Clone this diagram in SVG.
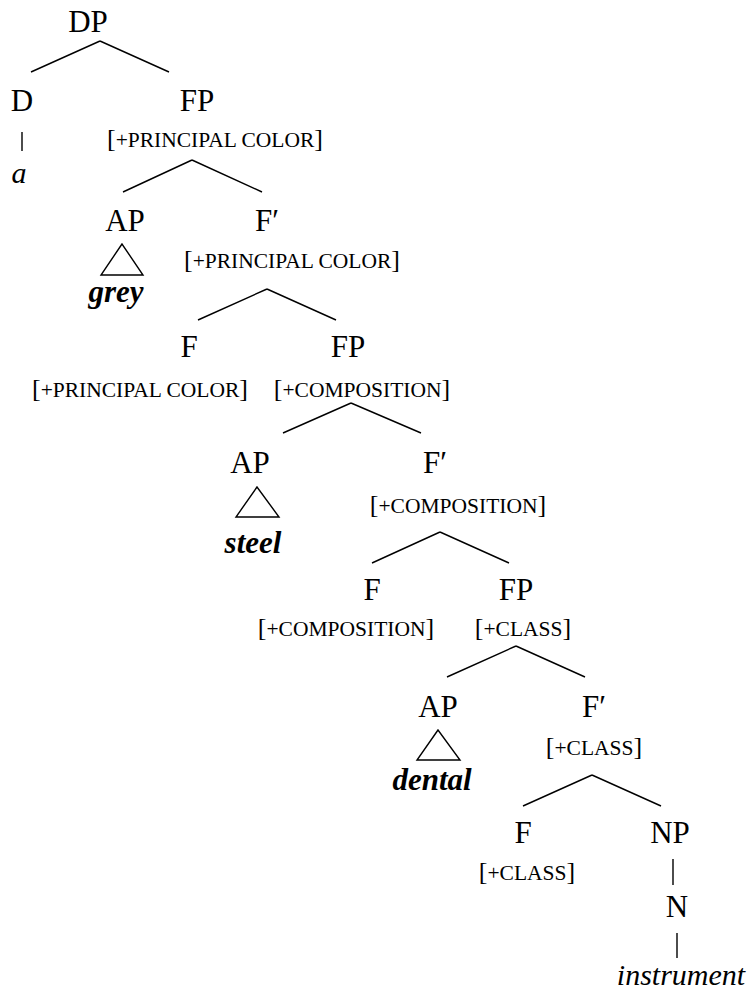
<svg xmlns="http://www.w3.org/2000/svg" width="750" height="991" viewBox="0 0 750 991">
<style>
text{font-family:"Liberation Serif","Times New Roman",serif;fill:#000;text-anchor:middle}
.lab{font-size:31px}
.it{font-size:30px;font-style:italic}
.bi{font-size:31px;font-style:italic;font-weight:bold}
.br{font-size:26px}
.sc{font-size:21.5px}
.ln{stroke:#000;stroke-width:1.4;fill:none}
.tri{stroke:#000;stroke-width:1.4;fill:none}
</style>
<g id="connectors">
<path class="ln" d="M100,41 L31,72 M100,41 L169,72"/>
<path class="ln" d="M22,132 L22,151"/>
<path class="ln" d="M192,160 L123,192 M192,160 L262,192"/>
<path class="ln" d="M267,289 L198,320 M267,289 L336,320"/>
<path class="ln" d="M351,403 L283,433 M351,403 L421,433"/>
<path class="ln" d="M440,532 L372,563 M440,532 L509,563"/>
<path class="ln" d="M516,646 L447,677 M516,646 L585,677"/>
<path class="ln" d="M592,775 L523,806 M592,775 L661,806"/>
<path class="ln" d="M673,859 L673,885"/>
<path class="ln" d="M677,933 L677,958"/>
</g>
<g id="n-dp"><text class="lab" x="88" y="32">DP</text></g>
<g id="n-d"><text class="lab" x="22" y="111">D</text></g>
<g id="n-a"><text class="it" x="19" y="183">a</text></g>
<g id="n-fp1"><text class="lab" x="197" y="111">FP</text>
<text x="215" y="147"><tspan class="br">[</tspan><tspan class="sc">+PRINCIPAL COLOR</tspan><tspan class="br">]</tspan></text></g>
<g id="n-ap1"><text class="lab" x="125" y="231">AP</text>
<polygon class="tri" points="122,244 101,275 143,275"/>
<text class="bi" x="116" y="302">grey</text></g>
<g id="n-fbar1"><text class="lab" x="267" y="231">F′</text>
<text x="292" y="268"><tspan class="br">[</tspan><tspan class="sc">+PRINCIPAL COLOR</tspan><tspan class="br">]</tspan></text></g>
<g id="n-f1"><text class="lab" x="189" y="357">F</text>
<text x="140" y="397"><tspan class="br">[</tspan><tspan class="sc">+PRINCIPAL COLOR</tspan><tspan class="br">]</tspan></text></g>
<g id="n-fp2"><text class="lab" x="348" y="357">FP</text>
<text x="362" y="397"><tspan class="br">[</tspan><tspan class="sc">+COMPOSITION</tspan><tspan class="br">]</tspan></text></g>
<g id="n-ap2"><text class="lab" x="250" y="473">AP</text>
<polygon class="tri" points="257,487 236,517 279,517"/>
<text class="bi" x="253" y="553">steel</text></g>
<g id="n-fbar2"><text class="lab" x="435" y="473">F′</text>
<text x="458" y="513"><tspan class="br">[</tspan><tspan class="sc">+COMPOSITION</tspan><tspan class="br">]</tspan></text></g>
<g id="n-f2"><text class="lab" x="372" y="600">F</text>
<text x="346" y="636"><tspan class="br">[</tspan><tspan class="sc">+COMPOSITION</tspan><tspan class="br">]</tspan></text></g>
<g id="n-fp3"><text class="lab" x="516" y="600">FP</text>
<text x="523" y="636"><tspan class="br">[</tspan><tspan class="sc">+CLASS</tspan><tspan class="br">]</tspan></text></g>
<g id="n-ap3"><text class="lab" x="438" y="717">AP</text>
<polygon class="tri" points="438,730 417,760 460,760"/>
<text class="bi" x="432" y="790">dental</text></g>
<g id="n-fbar3"><text class="lab" x="594" y="717">F′</text>
<text x="594" y="755"><tspan class="br">[</tspan><tspan class="sc">+CLASS</tspan><tspan class="br">]</tspan></text></g>
<g id="n-f3"><text class="lab" x="523" y="843">F</text>
<text x="527" y="880"><tspan class="br">[</tspan><tspan class="sc">+CLASS</tspan><tspan class="br">]</tspan></text></g>
<g id="n-np"><text class="lab" x="670" y="843">NP</text></g>
<g id="n-n"><text class="lab" x="677" y="917">N</text></g>
<g id="n-instrument"><text class="it" x="681" y="985">instrument</text></g>
</svg>
